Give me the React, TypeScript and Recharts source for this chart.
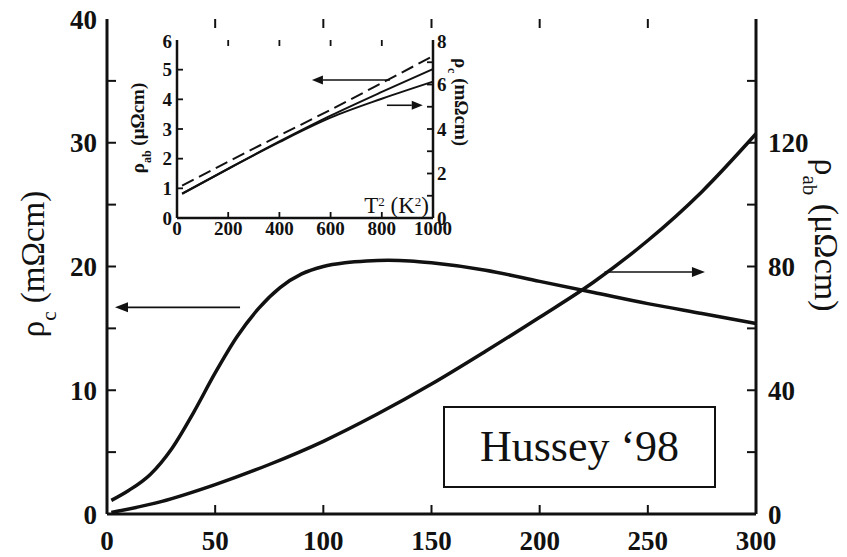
import React from 'react';
import { LineChart, Line, XAxis, YAxis, ReferenceLine } from 'recharts';

// ---- main panel data ----
const tempC = [2, 10, 20, 30, 40, 50, 60, 70, 80, 90, 100, 110, 120, 130, 140, 150, 175, 200, 225, 250, 275, 300];
const rhoC = [1.1, 1.9, 3.2, 5.3, 8.2, 11.4, 14.3, 16.6, 18.3, 19.4, 20.0, 20.3, 20.45, 20.5, 20.45, 20.3, 19.7, 18.8, 17.9, 17.0, 16.2, 15.4];
const tempAb = [2, 25, 50, 75, 100, 125, 150, 175, 200, 225, 250, 275, 300];
const rhoAb = [0.5, 4, 9.5, 16, 23.5, 32.3, 42, 52.6, 63.6, 75, 88.4, 104.2, 122.9];

const xTicks = [0, 50, 100, 150, 200, 250, 300];
const leftTicks = [0, 5, 10, 15, 20, 25, 30, 35, 40];
const rightTicks = [0, 20, 40, 60, 80, 100, 120, 140, 160];

// ---- inset data ----
const tSq = [20, 200, 400, 600, 800, 1000];
const insetDashed = [1.09, 1.9, 2.78, 3.65, 4.55, 5.46];
const insetAb = [0.82, 1.66, 2.58, 3.45, 4.25, 5.02];
const insetC = [1.09, 2.21, 3.41, 4.51, 5.36, 6.13];
const insetXTicks = [0, 200, 400, 600, 800, 1000];
const insetLeftTicks = [0, 1, 2, 3, 4, 5, 6];
const insetRightTicks = [0, 1, 2, 3, 4, 5, 6, 7, 8];

const rhoCData = tempC.map((T, i) => ({ T, v: rhoC[i] }));
const rhoAbData = tempAb.map((T, i) => ({ T, v: rhoAb[i] }));
const dashedData = tSq.map((T, i) => ({ T, v: insetDashed[i] }));
const abData = tSq.map((T, i) => ({ T, v: insetAb[i] }));
const cData = tSq.map((T, i) => ({ T, v: insetC[i] }));

const FONT = '"Liberation Serif", "Times New Roman", serif';
const INK = '#111';

// layout (plot areas follow from the chart margins + axis sizes below)
const MAIN_W = 847, MAIN_H = 557;
const MAIN_M = { top: 19, right: 31, bottom: 3, left: 47 };
const MAIN_AX_W = 60, MAIN_AX_H = 40;
const INSET_POS = { left: 120, top: 30 }, INSET_W = 360, INSET_H = 215;
const INSET_M = { top: 10, right: 17, bottom: 7, left: 27 };
const INSET_AX_W = 30, INSET_AX_H = 20;

const mainPlot = {
  x0: MAIN_M.left + MAIN_AX_W, x1: MAIN_W - MAIN_M.right - MAIN_AX_W,
  y0: MAIN_H - MAIN_M.bottom - MAIN_AX_H, y1: MAIN_M.top,
};
const insetPlot = {
  x0: INSET_POS.left + INSET_M.left + INSET_AX_W, x1: INSET_POS.left + INSET_W - INSET_M.right - INSET_AX_W,
  y0: INSET_POS.top + INSET_H - INSET_M.bottom - INSET_AX_H, y1: INSET_POS.top + INSET_M.top,
};
const lin = (d0: number, d1: number, r0: number, r1: number) => (v: number) => r0 + ((v - d0) / (d1 - d0)) * (r1 - r0);

const ArrowShape = (props: any) => {
  const { x1, y1, x2, y2 } = props;
  const head = props.head ?? 13;
  const w = props.hw ?? 5;
  const dx = x2 - x1, dy = y2 - y1;
  const len = Math.hypot(dx, dy) || 1;
  const ux = dx / len, uy = dy / len;
  const bx = x2 - ux * head, by = y2 - uy * head;
  const px = -uy * w, py = ux * w;
  return (
    <g>
      <line x1={x1} y1={y1} x2={bx} y2={by} stroke={INK} strokeWidth={1.6} />
      <polygon points={`${x2},${y2} ${bx + px},${by + py} ${bx - px},${by - py}`} fill={INK} />
    </g>
  );
};

const TickMarks = ({ plot, xs, xDom, yl, ylDom, yr, yrDom, len, sw }: any) => {
  const sx = lin(xDom[0], xDom[1], plot.x0, plot.x1);
  const sl = lin(ylDom[0], ylDom[1], plot.y0, plot.y1);
  const sr = lin(yrDom[0], yrDom[1], plot.y0, plot.y1);
  const out: any[] = [];
  xs.slice(1, -1).forEach((t: number) => {
    const x = sx(t);
    out.push(<line key={'b' + t} x1={x} x2={x} y1={plot.y0} y2={plot.y0 - len} stroke={INK} strokeWidth={sw} />);
    out.push(<line key={'t' + t} x1={x} x2={x} y1={plot.y1} y2={plot.y1 + len} stroke={INK} strokeWidth={sw} />);
  });
  yl.slice(1, -1).forEach((v: number) => {
    const y = sl(v);
    out.push(<line key={'l' + v} x1={plot.x0} x2={plot.x0 + len} y1={y} y2={y} stroke={INK} strokeWidth={sw} />);
  });
  yr.slice(1, -1).forEach((v: number) => {
    const y = sr(v);
    out.push(<line key={'r' + v} x1={plot.x1} x2={plot.x1 - len} y1={y} y2={y} stroke={INK} strokeWidth={sw} />);
  });
  return <g>{out}</g>;
};

const mainTick = { fill: INK, fontSize: 27, fontFamily: FONT, fontWeight: 'bold' as const };
const insetTick = { fill: INK, fontSize: 19, fontFamily: FONT, fontWeight: 'bold' as const };
const axisLine = { stroke: INK, strokeWidth: 3 };
const insetAxisLine = { stroke: INK, strokeWidth: 2.5 };

export default function App() {
  return (
    <div style={{ position: 'absolute', left: 0, top: 0, width: MAIN_W, height: MAIN_H, background: '#fff' }}>
      <LineChart width={MAIN_W} height={MAIN_H} margin={MAIN_M}>
        <XAxis xAxisId="b" type="number" dataKey="T" domain={[0, 300]} ticks={xTicks} height={MAIN_AX_H}
          axisLine={axisLine} tickLine={false} tickSize={0} tickMargin={17} tick={mainTick} />
        <XAxis xAxisId="t" orientation="top" type="number" dataKey="T" domain={[0, 300]} ticks={xTicks} height={0}
          axisLine={axisLine} tickLine={false} tickSize={0} tick={false} />
        <YAxis yAxisId="L" type="number" domain={[0, 40]} ticks={[0, 10, 20, 30, 40]} width={MAIN_AX_W}
          axisLine={axisLine} tickLine={false} tickSize={0} tickMargin={10} tick={mainTick} />
        <YAxis yAxisId="R" orientation="right" type="number" domain={[0, 160]} ticks={[0, 40, 80, 120]} width={MAIN_AX_W}
          axisLine={axisLine} tickLine={false} tickSize={0} tickMargin={12} tick={mainTick} />

        <Line xAxisId="b" yAxisId="L" data={rhoCData} dataKey="v" type="monotone" stroke={INK} strokeWidth={3.5}
          dot={false} isAnimationActive={false} />
        <Line xAxisId="b" yAxisId="R" data={rhoAbData} dataKey="v" type="monotone" stroke={INK} strokeWidth={3.5}
          dot={false} isAnimationActive={false} />
        <ReferenceLine xAxisId="b" yAxisId="L" segment={[{ x: 61.5, y: 16.7 }, { x: 3.7, y: 16.7 }]}
          shape={(p: any) => <ArrowShape {...p} />} />
        <ReferenceLine xAxisId="b" yAxisId="L" segment={[{ x: 230, y: 19.55 }, { x: 276.4, y: 19.55 }]}
          shape={(p: any) => <ArrowShape {...p} />} />
      </LineChart>

      <div style={{ position: 'absolute', left: INSET_POS.left, top: INSET_POS.top }}>
        <LineChart width={INSET_W} height={INSET_H} margin={INSET_M}>
          <XAxis xAxisId="b" type="number" dataKey="T" domain={[0, 1000]} ticks={insetXTicks} height={INSET_AX_H}
            axisLine={insetAxisLine} tickLine={false} tickSize={0} tickMargin={4} tick={insetTick} />
          <XAxis xAxisId="t" orientation="top" type="number" dataKey="T" domain={[0, 1000]} ticks={insetXTicks} height={0}
            axisLine={insetAxisLine} tickLine={false} tickSize={0} tick={false} />
          <YAxis yAxisId="L" type="number" domain={[0, 6]} ticks={insetLeftTicks} width={INSET_AX_W}
            axisLine={insetAxisLine} tickLine={false} tickSize={0} tickMargin={5} tick={insetTick} />
          <YAxis yAxisId="R" orientation="right" type="number" domain={[0, 8]} ticks={[0, 2, 4, 6, 8]} width={INSET_AX_W}
            axisLine={insetAxisLine} tickLine={false} tickSize={0} tickMargin={4} tick={insetTick} />

          <Line xAxisId="b" yAxisId="L" data={dashedData} dataKey="v" type="monotone" stroke={INK} strokeWidth={2}
            strokeDasharray="13 6" dot={false} isAnimationActive={false} />
          <Line xAxisId="b" yAxisId="L" data={abData} dataKey="v" type="monotone" stroke={INK} strokeWidth={2}
            dot={false} isAnimationActive={false} />
          <Line xAxisId="b" yAxisId="R" data={cData} dataKey="v" type="monotone" stroke={INK} strokeWidth={2}
            dot={false} isAnimationActive={false} />
          <ReferenceLine xAxisId="b" yAxisId="L" segment={[{ x: 832, y: 4.65 }, { x: 527, y: 4.65 }]}
            shape={(p: any) => <ArrowShape {...p} head={11} hw={4.5} />} />
          <ReferenceLine xAxisId="b" yAxisId="L" segment={[{ x: 820, y: 3.8 }, { x: 960, y: 3.8 }]}
            shape={(p: any) => <ArrowShape {...p} head={11} hw={4.5} />} />
        </LineChart>
      </div>

      <svg width={MAIN_W} height={MAIN_H} style={{ position: 'absolute', left: 0, top: 0, pointerEvents: 'none' }}>
        <TickMarks plot={mainPlot} xs={xTicks} xDom={[0, 300]} yl={leftTicks} ylDom={[0, 40]}
          yr={rightTicks} yrDom={[0, 160]} len={9} sw={2} />
        <TickMarks plot={insetPlot} xs={insetXTicks} xDom={[0, 1000]} yl={insetLeftTicks} ylDom={[0, 6]}
          yr={insetRightTicks} yrDom={[0, 8]} len={6} sw={1.8} />
        <text transform="translate(44,264) rotate(-90)" textAnchor="middle" fontFamily={FONT} fontSize={33} fill={INK}>
          ρ<tspan baselineShift="sub" fontSize="21">c</tspan><tspan> (mΩcm)</tspan>
        </text>
        <text transform="translate(815,235) rotate(90)" textAnchor="middle" fontFamily={FONT} fontSize={34} fill={INK}>
          ρ<tspan baselineShift="sub" fontSize="21">ab</tspan><tspan> (μΩcm)</tspan>
        </text>
        <text transform="translate(144,128) rotate(-90)" textAnchor="middle" fontFamily={FONT} fontSize={19} fontWeight="bold" fill={INK}>
          ρ<tspan baselineShift="sub" fontSize="12">ab</tspan><tspan> (μΩcm)</tspan>
        </text>
        <text transform="translate(455,102) rotate(90)" textAnchor="middle" fontFamily={FONT} fontSize={19} fontWeight="bold" fill={INK}>
          ρ<tspan baselineShift="sub" fontSize="12">c</tspan><tspan> (mΩcm)</tspan>
        </text>
        <text x={429} y={213} textAnchor="end" fontFamily={FONT} fontSize={23} fill={INK}>
          T<tspan baselineShift="super" fontSize="13">2</tspan><tspan> (K</tspan><tspan baselineShift="super" fontSize="13">2</tspan><tspan>)</tspan>
        </text>
      </svg>

      <div style={{
        position: 'absolute', left: 443, top: 406, width: 269, height: 78, border: '2px solid #111',
        background: '#fff', display: 'flex', alignItems: 'center', justifyContent: 'center',
        fontFamily: FONT, fontSize: 44, color: INK, lineHeight: 1,
      }}>
        Hussey ‘98
      </div>
    </div>
  );
}
